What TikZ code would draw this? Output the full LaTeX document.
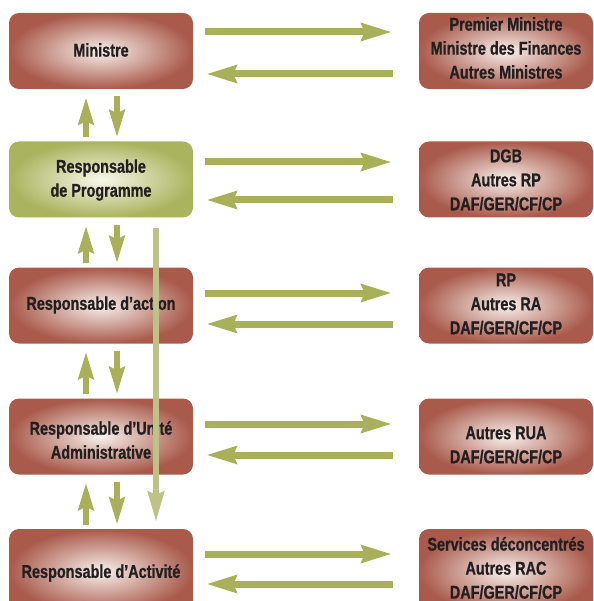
\documentclass[tikz,border=0pt]{standalone}
\usepackage{fontspec}
\newfontfamily\lab[FakeStretch=0.78,FakeBold=0.8]{Liberation Sans}
\usetikzlibrary{arrows.meta}

\definecolor{arrowgreen}{HTML}{A8B05A}
\definecolor{lightgreen}{HTML}{BCC384}
\definecolor{boxred}{HTML}{A95A4B}
\definecolor{boxredc}{HTML}{F8F0EC}
\definecolor{boxgreen}{HTML}{AAB35E}
\definecolor{boxgreenc}{HTML}{F8F8EA}
\definecolor{ink}{HTML}{231F20}

\tikzset{
  panel/.style={rounded corners=10pt, inner sep=0pt, minimum height=76pt},
  redbox/.style={panel, inner color=boxredc, outer color=boxred},
  greenbox/.style={panel, inner color=boxgreenc, outer color=boxgreen},
  leftbox/.style={minimum width=184pt},
  rightbox/.style={minimum width=174pt},
  lbl/.style={font=\lab\bfseries\fontsize{18.5}{24}\selectfont, text=ink, align=center, inner sep=0pt},
  harrow/.style={draw=arrowgreen, line width=7pt, -{Stealth[length=30pt,width=17pt,inset=3pt]}},
  varrow/.style={draw=arrowgreen, line width=6pt, -{Stealth[length=27pt,width=15pt,inset=3pt]}},
  uparrow/.style={varrow, shorten <=4pt, shorten >=8pt},
  downarrow/.style={varrow, shorten <=7pt, shorten >=4pt},
  longarrow/.style={draw=lightgreen, line width=6pt, -{Stealth[length=30pt,width=16pt,inset=3pt]}}
}

\begin{document}
\begin{tikzpicture}[x=1pt, y=-1pt]
\useasboundingbox (0,0) rectangle (593,601);
\clip (0,0) rectangle (593,601);

% left column
\node[redbox, leftbox]   (L1) at (101,51)    {};
\node[greenbox, leftbox] (L2) at (101,179.5) {};
\node[redbox, leftbox]   (L3) at (101,305.5) {};
\node[redbox, leftbox]   (L4) at (101,436.5) {};
\node[redbox, leftbox, minimum height=84pt] (L5) at (101,571) {};

% right column
\node[redbox, rightbox] (R1) at (506,51)    {};
\node[redbox, rightbox] (R2) at (506,179.5) {};
\node[redbox, rightbox] (R3) at (506,305.5) {};
\node[redbox, rightbox] (R4) at (506,436.5) {};
\node[redbox, rightbox, minimum height=84pt] (R5) at (506,571) {};

% labels
\node[lbl] (tL1) at (101,50)  {Ministre};
\node[lbl] (tL2) at (101,180) {Responsable\\de Programme};
\node[lbl] (tL3) at (101,305) {Responsable d’action};
\node[lbl] (tL4) at (101,440) {Responsable d’Unité\\Administrative};
\node[lbl] (tL5) at (101,573) {Responsable d’Activité};

\node[lbl] (tR1) at (506,48)  {Premier Ministre\\Ministre des Finances\\Autres Ministres};
\node[lbl] (tR2) at (506,180) {DGB\\Autres RP\\DAF/GER/CF/CP};
\node[lbl] (tR3) at (506,304) {RP\\Autres RA\\DAF/GER/CF/CP};
\node[lbl] (tR4) at (506,445) {Autres RUA\\DAF/GER/CF/CP};
\node[lbl] (tR5) at (506,568) {Services déconcentrés\\Autres RAC\\DAF/GER/CF/CP};

% horizontal exchanges
\draw[harrow] ([xshift=12pt,yshift=19pt]L1.east)   -- ([xshift=-27pt,yshift=19pt]R1.west);
\draw[harrow] ([xshift=-26pt,yshift=-23pt]R1.west) -- ([xshift=13pt,yshift=-23pt]L1.east);
\draw[harrow] ([xshift=12pt,yshift=17.5pt]L2.east)   -- ([xshift=-27pt,yshift=17.5pt]R2.west);
\draw[harrow] ([xshift=-26pt,yshift=-20.5pt]R2.west) -- ([xshift=13pt,yshift=-20.5pt]L2.east);
\draw[harrow] ([xshift=12pt,yshift=12.5pt]L3.east)   -- ([xshift=-27pt,yshift=12.5pt]R3.west);
\draw[harrow] ([xshift=-26pt,yshift=-18.5pt]R3.west) -- ([xshift=13pt,yshift=-18.5pt]L3.east);
\draw[harrow] ([xshift=12pt,yshift=12.5pt]L4.east)   -- ([xshift=-27pt,yshift=12.5pt]R4.west);
\draw[harrow] ([xshift=-26pt,yshift=-18.5pt]R4.west) -- ([xshift=13pt,yshift=-18.5pt]L4.east);
\draw[harrow] ([xshift=12pt,yshift=17pt]L5.east)   -- ([xshift=-27pt,yshift=17pt]R5.west);
\draw[harrow] ([xshift=-26pt,yshift=-13pt]R5.west) -- ([xshift=13pt,yshift=-13pt]L5.east);

% vertical exchanges between levels
\foreach \a/\b in {L1/L2, L2/L3, L3/L4, L4/L5} {
  \draw[uparrow]   ([xshift=-15pt]\b.north) -- ([xshift=-15pt]\a.south);
  \draw[downarrow] ([xshift=16pt]\a.south)  -- ([xshift=16pt]\b.north);
}

% direct link from programme to activity level
\draw[longarrow] ([xshift=55pt,yshift=-10pt]L2.south) -- ([xshift=55pt,yshift=7pt]L5.north);
\end{tikzpicture}
\end{document}
